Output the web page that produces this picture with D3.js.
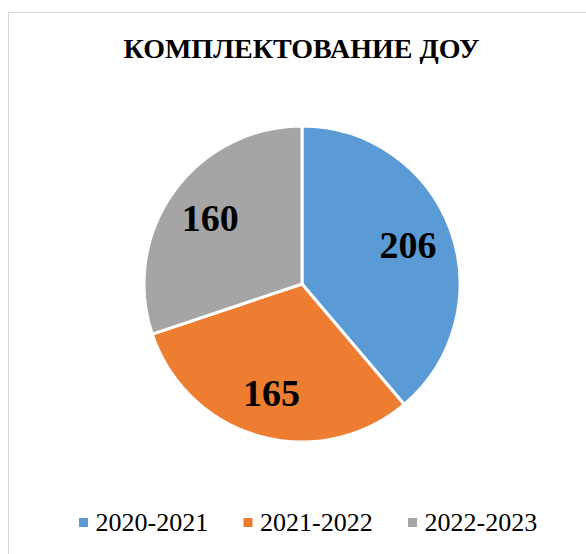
<!DOCTYPE html>
<html>
<head>
<meta charset="utf-8">
<script src="https://cdn.jsdelivr.net/npm/d3@7"></script>
<style>
  html, body { margin: 0; padding: 0; background: #fff; }
  svg { display: block; }
</style>
</head>
<body>
<div id="chart"></div>
<script>
(function () {
  "use strict";

  const title = "КОМПЛЕКТОВАНИЕ ДОУ";
  const categories = ["2020-2021", "2021-2022", "2022-2023"];
  const values = [206, 165, 160];
  const colors = ["#5b9bd5", "#ed7d31", "#a5a5a5"];

  const width = 586, height = 554;
  const cx = 302, cy = 284, radius = 158;
  const serif = "'Liberation Serif', 'Times New Roman', 'DejaVu Serif', serif";

  const svg = d3.select("#chart")
    .append("svg")
    .attr("width", width)
    .attr("height", height)
    .style("font-family", serif);

  // chart frame (right and bottom edges fall outside the crop)
  svg.append("rect")
    .attr("x", 8.5)
    .attr("y", 12.5)
    .attr("width", 700)
    .attr("height", 700)
    .attr("fill", "#fff")
    .attr("stroke", "#d9d9d9")
    .attr("stroke-width", 1);

  svg.append("text")
    .attr("x", 301.5)
    .attr("y", 57.5)
    .attr("text-anchor", "middle")
    .attr("font-family", serif)
    .attr("font-size", 28)
    .attr("font-weight", "bold")
    .attr("fill", "#000")
    .text(title);

  const data = categories.map((name, i) => ({ name, value: values[i], color: colors[i] }));

  const pie = d3.pie().sort(null).value((d) => d.value);
  const arc = d3.arc().innerRadius(0).outerRadius(radius);
  const labelArc = d3.arc().innerRadius(113).outerRadius(113);

  const plot = svg.append("g").attr("transform", `translate(${cx},${cy})`);
  const arcs = pie(data);

  plot.selectAll("path")
    .data(arcs)
    .join("path")
    .attr("d", arc)
    .attr("fill", (d) => d.data.color)
    .attr("stroke", "#fff")
    .attr("stroke-width", 3)
    .attr("stroke-linejoin", "round");

  plot.selectAll("text.value")
    .data(arcs)
    .join("text")
    .attr("class", "value")
    .attr("transform", (d) => `translate(${labelArc.centroid(d)})`)
    .attr("text-anchor", "middle")
    .attr("dy", "0.34em")
    .attr("font-family", serif)
    .attr("font-size", 38)
    .attr("font-weight", "bold")
    .attr("fill", "#000")
    .text((d) => d.data.value);

  const legend = svg.append("g").attr("transform", "translate(79,531)");
  const items = legend.selectAll("g")
    .data(data)
    .join("g")
    .attr("transform", (_, i) => `translate(${i * 164.5},0)`);

  items.append("rect")
    .attr("x", 0)
    .attr("y", -13)
    .attr("width", 9)
    .attr("height", 9)
    .attr("fill", (d) => d.color);

  items.append("text")
    .attr("x", 16.5)
    .attr("y", 0)
    .attr("font-family", serif)
    .attr("font-size", 26)
    .attr("fill", "#000")
    .text((d) => d.name);
})();
</script>
</body>
</html>
